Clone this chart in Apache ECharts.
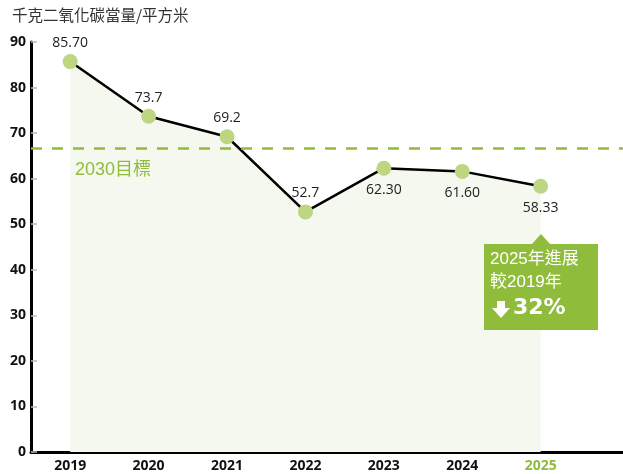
<!DOCTYPE html>
<html>
<head>
<meta charset="utf-8">
<script src="https://cdn.jsdelivr.net/npm/echarts@6/dist/echarts.min.js"></script>
<style>
  html, body { margin: 0; padding: 0; background: #fff; }
  #main { width: 623px; height: 474px; }
</style>
</head>
<body>
<div id="main"></div>
<script>
// 年份、數值與標籤
var years = ['2019', '2020', '2021', '2022', '2023', '2024', '2025'];
var values = [85.70, 73.7, 69.2, 52.7, 62.30, 61.60, 58.33];
var valueLabels = ['85.70', '73.7', '69.2', '52.7', '62.30', '61.60', '58.33'];
var labelPos = ['top', 'top', 'top', 'top', 'bottom', 'bottom', 'bottom'];
var target2030 = 66.7;
var yTicks = [0, 10, 20, 30, 40, 50, 60, 70, 80, 90];

var green = '#8fbc3b';
var cjk = '"Noto Sans CJK TC", "Noto Sans", sans-serif';
var latin = '"Liberation Sans", "Noto Sans CJK TC", sans-serif';

var myChart = echarts.init(document.getElementById('main'));

var points = values.map(function (v, i) {
    return {
        value: [i, v],
        label: {
            position: labelPos[i],
            distance: labelPos[i] === 'top' ? 4 : 7,
            formatter: valueLabels[i]
        }
    };
});

var option = {
    animation: false,
    textStyle: { fontFamily: cjk },
    grid: { left: 31, right: 0, top: 42, bottom: 22 },
    xAxis: {
        type: 'value',
        min: -0.5,
        max: 7.05,
        axisLine: { show: true, onZero: false, lineStyle: { color: '#000', width: 3 } },
        axisTick: { show: false },
        splitLine: { show: false },
        axisLabel: {
            customValues: years.map(function (y, i) { return i; }),
            margin: 7,
            fontSize: 14,
            fontWeight: 'bold',
            color: '#111',
            fontFamily: '"Open Sans", sans-serif',
            formatter: function (v) {
                return v === years.length - 1 ? '{g|' + years[v] + '}' : years[v];
            },
            rich: {
                g: { color: green, fontSize: 14, fontWeight: 'bold', fontFamily: '"Open Sans", sans-serif' }
            }
        }
    },
    yAxis: {
        type: 'value',
        min: yTicks[0],
        max: yTicks[yTicks.length - 1],
        interval: 10,
        axisLine: { show: true, onZero: false, lineStyle: { color: '#000', width: 3 } },
        axisTick: { show: true, inside: true, length: 6, lineStyle: { color: '#bbb', width: 1.5 } },
        splitLine: { show: false },
        axisLabel: {
            margin: 5,
            fontSize: 14,
            fontWeight: 'bold',
            color: '#111',
            fontFamily: '"Open Sans", sans-serif'
        }
    },
    series: [
        {
            type: 'line',
            data: points,
            symbol: 'circle',
            symbolSize: 15,
            itemStyle: { color: '#bed681' },
            lineStyle: { color: '#000', width: 2.5 },
            areaStyle: { color: '#f5f8ee', opacity: 1 },
            z: 3,
            label: {
                show: true,
                fontSize: 14,
                color: '#222',
                fontFamily: '"Open Sans", sans-serif'
            },
            markLine: {
                silent: true,
                symbol: 'none',
                lineStyle: { color: green, type: [11, 10], width: 2.5 },
                label: { show: false },
                data: [{ yAxis: target2030 }]
            }
        }
    ],
    graphic: [
        {
            type: 'text',
            left: 12,
            top: 7,
            z: 100,
            style: { text: '千克二氧化碳當量/平方米', font: '15.5px ' + cjk, fill: '#333' }
        },
        {
            type: 'text',
            left: 75,
            top: 161,
            z: 100,
            style: { text: '2030目標', font: '18px ' + latin, fill: green }
        },
        {
            type: 'group',
            z: 100,
            children: [
                {
                    type: 'polygon',
                    z: 100,
                    shape: { points: [[532, 244], [541, 234], [550, 244]] },
                    style: { fill: green }
                },
                {
                    type: 'rect',
                    z: 100,
                    shape: { x: 484, y: 244, width: 114, height: 86 },
                    style: { fill: green }
                },
                {
                    type: 'text',
                    z: 101,
                    x: 490,
                    y: 251,
                    style: { text: '2025年進展', font: '17px ' + latin, fill: '#fff' }
                },
                {
                    type: 'text',
                    z: 101,
                    x: 490,
                    y: 274,
                    style: { text: '較2019年', font: '17px ' + latin, fill: '#fff' }
                },
                {
                    type: 'polygon',
                    z: 101,
                    shape: { points: [[497, 301], [505, 301], [505, 308], [510, 308], [501, 318], [492, 308], [497, 308]] },
                    style: { fill: '#fff' }
                },
                {
                    type: 'text',
                    z: 101,
                    x: 513,
                    y: 297,
                    style: { text: '32%', font: 'bold 22px "DejaVu Sans", sans-serif', fill: '#fff' }
                }
            ]
        }
    ]
};

myChart.setOption(option);
</script>
</body>
</html>
